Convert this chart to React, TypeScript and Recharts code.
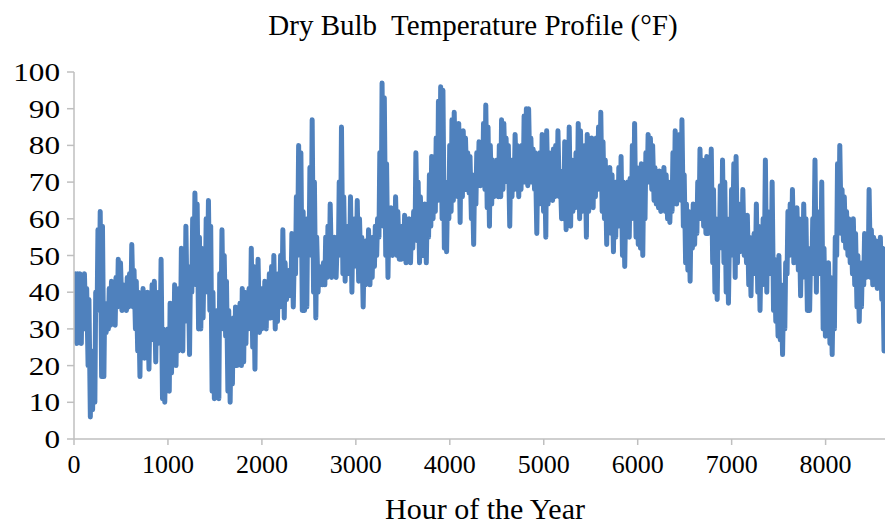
import { LineChart, Line, XAxis, YAxis } from 'recharts'

// daily max / min dry bulb temperature (°F), day 0..364
const dailyHigh = [
  45, 45, 45, 44, 45, 41, 38, 24, 24, 40,
  57, 62, 58, 37, 36, 41, 43, 42, 44, 49,
  48, 42, 41, 44, 45, 53, 46, 43, 40, 37,
  41, 36, 40, 34, 42, 43, 37, 40, 49, 30,
  22, 30, 37, 36, 42, 38, 41, 52, 50, 58,
  47, 45, 60, 67, 64, 55, 52, 48, 60, 65,
  58, 40, 30, 35, 45, 57, 50, 43, 35, 28,
  33, 36, 34, 37, 41, 40, 38, 41, 52, 47,
  40, 49, 40, 41, 43, 42, 45, 47, 50, 44,
  45, 50, 57, 48, 44, 46, 56, 48, 66, 80,
  78, 62, 56, 60, 74, 87, 70, 55, 47, 46,
  48, 55, 58, 64, 53, 55, 52, 70, 85, 66,
  55, 58, 66, 57, 60, 65, 60, 55, 50, 54,
  57, 52, 55, 58, 60, 78, 97, 93, 75, 60,
  63, 60, 66, 62, 56, 58, 61, 56, 60, 57,
  62, 78, 70, 66, 60, 64, 62, 72, 77, 75,
  82, 92, 96, 95, 70, 66, 80, 87, 89, 84,
  86, 80, 84, 82, 78, 77, 72, 70, 78, 81,
  80, 86, 91, 85, 80, 76, 75, 76, 80, 87,
  86, 82, 80, 74, 76, 83, 80, 78, 80, 88,
  90, 90, 82, 79, 78, 72, 78, 83, 80, 84,
  78, 76, 79, 80, 84, 73, 72, 81, 78, 85,
  76, 75, 78, 86, 84, 78, 80, 83, 78, 82,
  80, 82, 85, 89, 81, 76, 72, 74, 72, 68,
  70, 74, 77, 70, 62, 70, 71, 80, 86, 74,
  72, 75, 70, 78, 83, 82, 80, 74, 72, 73,
  70, 74, 72, 70, 68, 78, 84, 80, 83, 87,
  72, 64, 62, 60, 64, 62, 70, 79, 76, 74,
  77, 72, 79, 68, 60, 55, 69, 76, 70, 60,
  52, 68, 75, 77, 64, 62, 68, 60, 61, 55,
  52, 56, 64, 58, 48, 60, 76, 62, 58, 70,
  49, 45, 50, 42, 38, 48, 62, 64, 68, 62,
  63, 60, 55, 64, 60, 52, 48, 60, 76, 62,
  60, 70, 52, 45, 48, 44, 38, 55, 75, 80,
  68, 66, 62, 60, 57, 60, 56, 50, 45, 48,
  56, 52, 68, 57, 55, 54, 50, 55, 52, 40,
  38, 40, 42, 45, 44,
]

const dailyLow = [
  26, 26, 27, 26, 30, 30, 20, 6, 8, 10,
  35, 40, 17, 17, 29, 30, 31, 33, 31, 36,
  38, 35, 36, 35, 36, 38, 36, 30, 24, 17,
  30, 22, 25, 19, 27, 29, 21, 26, 30, 11,
  10, 14, 13, 18, 23, 20, 24, 30, 24, 35,
  32, 23, 40, 45, 42, 30, 30, 33, 40, 45,
  35, 13, 11, 12, 11, 35, 30, 28, 13, 10,
  15, 21, 20, 22, 20, 21, 26, 30, 32, 25,
  19, 30, 29, 30, 31, 30, 33, 33, 34, 30,
  32, 36, 38, 33, 38, 39, 40, 36, 45, 56,
  50, 35, 35, 36, 50, 55, 40, 33, 40, 42,
  42, 42, 44, 46, 44, 45, 44, 50, 55, 45,
  43, 45, 48, 40, 47, 48, 43, 45, 36, 42,
  44, 42, 44, 47, 50, 55, 60, 58, 50, 44,
  52, 50, 52, 50, 49, 49, 50, 48, 49, 48,
  52, 55, 54, 48, 50, 50, 48, 55, 58, 60,
  62, 65, 68, 60, 52, 51, 60, 62, 65, 68,
  66, 59, 66, 68, 68, 67, 60, 53, 64, 70,
  69, 70, 68, 63, 58, 64, 66, 67, 66, 66,
  68, 72, 70, 58, 66, 68, 70, 66, 68, 70,
  70, 69, 70, 70, 68, 56, 64, 66, 62, 55,
  64, 66, 65, 66, 68, 66, 60, 60, 57, 65,
  58, 62, 63, 66, 60, 62, 64, 55, 62, 66,
  63, 66, 68, 70, 62, 60, 53, 58, 56, 51,
  55, 58, 58, 50, 47, 56, 55, 60, 62, 55,
  53, 52, 50, 60, 70, 70, 68, 65, 64, 63,
  62, 63, 62, 60, 59, 62, 65, 64, 66, 65,
  58, 48, 46, 43, 52, 53, 56, 60, 60, 58,
  56, 56, 60, 48, 40, 38, 52, 55, 48, 40,
  37, 50, 58, 44, 48, 51, 52, 50, 48, 42,
  39, 45, 48, 40, 35, 42, 52, 40, 45, 48,
  35, 32, 28, 27, 23, 30, 45, 50, 52, 48,
  50, 46, 39, 46, 44, 35, 35, 45, 55, 40,
  45, 50, 30, 28, 30, 26, 23, 30, 50, 58,
  56, 54, 52, 50, 48, 45, 42, 36, 32, 36,
  42, 44, 46, 44, 42, 44, 41, 44, 38, 24,
  25, 28, 30, 32, 30,
]

const xTicks = [0, 1000, 2000, 3000, 4000, 5000, 6000, 7000, 8000]
const yTicks = [0, 10, 20, 30, 40, 50, 60, 70, 80, 90, 100]

// morning low and afternoon high for every day
const data: { hour: number; temp: number }[] = []
dailyLow.forEach((lo, d) => {
  data.push({ hour: d * 24 + 6, temp: lo })
  data.push({ hour: d * 24 + 15, temp: dailyHigh[d] })
})

const serif = '"Liberation Serif", "Times New Roman", serif'

function XTick({ x, y, payload }: any) {
  return (
    <text x={x} y={y + 25} textAnchor="middle" fill="#000" fontSize={26} fontFamily={serif}>
      {payload.value}
    </text>
  )
}

// y labels in the original are a bit wider than the x ones
function YTick({ x, y, payload }: any) {
  return (
    <g transform={`translate(${x + 1},${y + 9}) scale(1.2,1)`}>
      <text x={0} y={0} textAnchor="end" fill="#000" fontSize={26} fontFamily={serif}>
        {payload.value}
      </text>
    </g>
  )
}

export default function App() {
  return (
    <div
      style={{
        position: 'absolute',
        left: 0,
        top: 0,
        width: 885,
        height: 525,
        overflow: 'hidden',
        background: '#fff',
        fontFamily: serif,
        color: '#000',
      }}
    >
      <div
        style={{
          position: 'absolute',
          left: 0,
          width: 946,
          top: 11,
          fontSize: 29,
          lineHeight: 1,
          textAlign: 'center',
          whiteSpace: 'pre',
        }}
      >
        Dry Bulb  Temperature Profile (°F)
      </div>

      <LineChart
        width={898}
        height={525}
        data={data}
        margin={{ top: 72, right: 1, bottom: 46, left: 0 }}
        style={{ position: 'absolute', left: 0, top: 0, fontFamily: serif }}
      >
        <XAxis
          type="number"
          dataKey="hour"
          domain={[0, 8760]}
          ticks={xTicks}
          interval={0}
          allowDataOverflow
          height={40}
          tickSize={6}
          tickMargin={3}
          axisLine={{ stroke: '#bfbfbf', strokeWidth: 1.5 }}
          tickLine={{ stroke: '#bfbfbf', strokeWidth: 1.5 }}
          tick={<XTick />}
        />
        <YAxis
          type="number"
          domain={[0, 100]}
          ticks={yTicks}
          interval={0}
          width={74}
          tickSize={7}
          tickMargin={8}
          axisLine={{ stroke: '#bfbfbf', strokeWidth: 1.5 }}
          tickLine={{ stroke: '#bfbfbf', strokeWidth: 1.5 }}
          tick={<YTick />}
        />
        <Line
          type="linear"
          dataKey="temp"
          stroke="#4f81bd"
          strokeWidth={5}
          strokeLinejoin="round"
          dot={false}
          isAnimationActive={false}
        />
      </LineChart>

      <div
        style={{
          position: 'absolute',
          left: 0,
          width: 970,
          top: 494,
          fontSize: 30,
          lineHeight: 1,
          textAlign: 'center',
        }}
      >
        Hour of the Year
      </div>
    </div>
  )
}
